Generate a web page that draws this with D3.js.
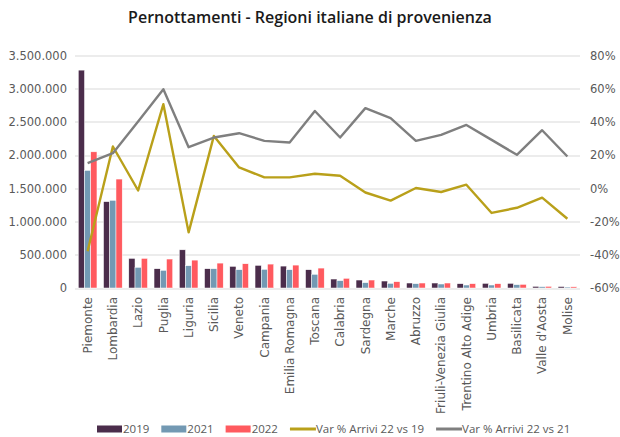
<!DOCTYPE html>
<html>
<head>
    <meta charset="utf-8">
    <script src="https://d3js.org/d3.v7.min.js"></script>
    <style>
        html, body {
            margin: 0;
            padding: 0;
            background: #fff;
            font-family: "Open Sans", sans-serif;
        }

        svg {
            display: block;
        }

        .grid line {
            stroke: #d9d9d9;
            stroke-width: 1px;
        }

        .axis text {
            fill: #595959;
            font-family: "DejaVu Sans", sans-serif;
            font-size: 11.5px;
        }

        .axis.cat text {
            font-size: 12px;
        }

        .axis path, .axis line {
            display: none;
        }

        text.title {
            font-size: 16px;
            font-weight: 600;
            fill: #1a1a1a;
        }

        .legend text {
            fill: #595959;
            font-size: 11.5px;
        }

        path.var {
            fill: none;
            stroke-width: 2.4px;
            stroke-linejoin: round;
        }
    </style>
</head>
<body>
<div id="chart"></div>
<script>
    // regioni di provenienza
    var regioni = ["Piemonte", "Lombardia", "Lazio", "Puglia", "Liguria", "Sicilia", "Veneto",
        "Campania", "Emilia Romagna", "Toscana", "Calabria", "Sardegna", "Marche", "Abruzzo",
        "Friuli-Venezia Giulia", "Trentino Alto Adige", "Umbria", "Basilicata", "Valle d'Aosta", "Molise"];

    // pernottamenti per anno
    var pern2019 = [3280000, 1300000, 446000, 290000, 575000, 290000, 326000, 341000, 330000, 275000,
        135000, 120000, 105000, 75000, 75000, 65000, 70000, 70000, 25000, 22000];
    var pern2021 = [1770000, 1320000, 311000, 266000, 335000, 290000, 275000, 281000, 275000, 206000,
        110000, 80000, 70000, 65000, 60000, 45000, 45000, 50000, 20000, 15000];
    var pern2022 = [2050000, 1640000, 446000, 436000, 420000, 375000, 365000, 360000, 345000, 300000,
        146000, 120000, 95000, 75000, 75000, 65000, 65000, 55000, 25000, 18000];

    // variazioni % arrivi
    var var22vs19 = [-0.379, 0.252, -0.013, 0.507, -0.265, 0.316, 0.126, 0.066, 0.066, 0.088,
        0.076, -0.025, -0.074, 0.002, -0.022, 0.022, -0.148, -0.117, -0.056, -0.183];
    var var22vs21 = [0.152, 0.212, 0.402, 0.597, 0.248, 0.306, 0.332, 0.286, 0.276, 0.466,
        0.306, 0.483, 0.423, 0.286, 0.322, 0.382, 0.292, 0.202, 0.350, 0.192];

    var leftTicks = [0, 500000, 1000000, 1500000, 2000000, 2500000, 3000000, 3500000];
    var rightTicks = [-0.6, -0.4, -0.2, 0, 0.2, 0.4, 0.6, 0.8];

    var anni = ["2019", "2021", "2022"];
    var serie = [pern2019, pern2021, pern2022];
    var colori = ["#4b2d4b", "#7399b3", "#ff5a5f"];
    var lineLabels = ["Var % Arrivi 22 vs 19", "Var % Arrivi 22 vs 21"];
    var lineColors = ["#b9a01a", "#7f7f7f"];

    var width = 620,
        height = 437,
        margin = {top: 55.5, right: 40, bottom: 149, left: 75};

    var innerW = width - margin.left - margin.right,
        innerH = height - margin.top - margin.bottom;

    var svg = d3.select("#chart").append("svg")
        .attr("width", width)
        .attr("height", height);

    svg.append("text")
        .attr("class", "title")
        .attr("x", width / 2)
        .attr("y", 23)
        .attr("text-anchor", "middle")
        .text("Pernottamenti - Regioni italiane di provenienza");

    var g = svg.append("g")
        .attr("transform", "translate(" + margin.left + "," + margin.top + ")");

    var x = d3.scaleBand()
        .domain(regioni)
        .range([0, innerW])
        .paddingInner(0.26)
        .paddingOuter(0.13);

    var xs = d3.scaleBand()
        .domain(anni)
        .range([0, x.bandwidth()]);

    var y = d3.scaleLinear()
        .domain([0, 3500000])
        .range([innerH, 0]);

    var y2 = d3.scaleLinear()
        .domain([-0.6, 0.8])
        .range([innerH, 0]);

    // gridlines
    g.append("g")
        .attr("class", "grid")
        .selectAll("line")
        .data(leftTicks)
        .enter()
        .append("line")
        .attr("x1", 0)
        .attr("x2", innerW)
        .attr("y1", function (d) { return Math.round(y(d)) + 0.5; })
        .attr("y2", function (d) { return Math.round(y(d)) + 0.5; });

    var fmt = function (d) {
        return d3.format(",")(d).replace(/,/g, ".");
    };

    var fmtPct = function (d) {
        return d3.format(".0%")(d).replace("\u2212", "-");
    };

    g.append("g")
        .attr("class", "axis")
        .call(d3.axisLeft(y).tickValues(leftTicks).tickFormat(fmt).tickSize(0).tickPadding(8));

    g.append("g")
        .attr("class", "axis")
        .attr("transform", "translate(" + innerW + ",0)")
        .call(d3.axisRight(y2).tickValues(rightTicks).tickFormat(fmtPct).tickSize(0).tickPadding(10));

    // bars
    serie.forEach(function (values, k) {
        g.append("g")
            .selectAll("rect")
            .data(values)
            .enter()
            .append("rect")
            .attr("x", function (d, i) { return x(regioni[i]) + xs(anni[k]); })
            .attr("y", function (d) { return y(d); })
            .attr("width", xs.bandwidth())
            .attr("height", function (d) { return innerH - y(d); })
            .style("fill", colori[k])
            .style("stroke", "#fff")
            .style("stroke-width", 0.5);
    });

    // category labels
    g.append("g")
        .attr("class", "axis cat")
        .attr("transform", "translate(0," + innerH + ")")
        .call(d3.axisBottom(x).tickSize(0).tickPadding(0))
        .selectAll("text")
        .attr("transform", "rotate(-90)")
        .attr("text-anchor", "end")
        .attr("x", -9)
        .attr("y", 0)
        .attr("dy", "0.35em");

    // lines
    [var22vs19, var22vs21].forEach(function (values, k) {
        var line = d3.line()
            .x(function (d, i) { return x(regioni[i]) + x.bandwidth() / 2; })
            .y(function (d) { return y2(d); });

        g.append("path")
            .datum(values)
            .attr("class", "var")
            .attr("d", line)
            .style("stroke", lineColors[k]);
    });

    // legend
    var legend = svg.append("g")
        .attr("class", "legend")
        .attr("transform", "translate(0,429)");

    var items = [
        {label: "2019", type: "rect", color: colori[0]},
        {label: "2021", type: "rect", color: colori[1]},
        {label: "2022", type: "rect", color: colori[2]},
        {label: lineLabels[0], type: "line", color: lineColors[0]},
        {label: lineLabels[1], type: "line", color: lineColors[1]}
    ];

    var lx = 97;
    items.forEach(function (it) {
        var item = legend.append("g").attr("transform", "translate(" + lx + ",0)");
        if (it.type === "rect") {
            item.append("rect")
                .attr("x", 0)
                .attr("y", -3.5)
                .attr("width", 25)
                .attr("height", 7)
                .style("fill", it.color);
        } else {
            item.append("line")
                .attr("x1", 0)
                .attr("x2", 26)
                .attr("y1", 0)
                .attr("y2", 0)
                .style("stroke", it.color)
                .style("stroke-width", 3);
        }
        var t = item.append("text")
            .attr("x", 26)
            .attr("dy", "0.35em")
            .text(it.label);
        lx += 26 + t.node().getComputedTextLength() + 12;
    });
</script>
</body>
</html>
